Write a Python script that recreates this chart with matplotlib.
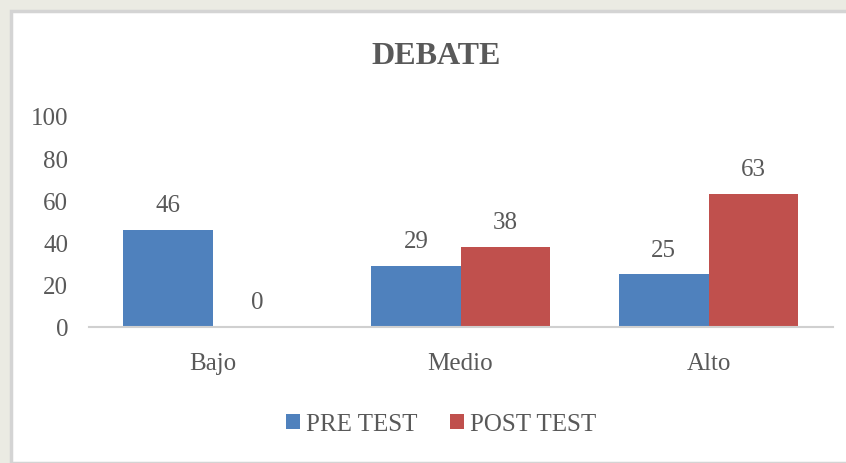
import matplotlib.pyplot as plt
import matplotlib.patches as mpatches
import numpy as np

categories = ["Bajo", "Medio", "Alto"]
pre_test = [46, 29, 25]
post_test = [0, 38, 63]
series_names = ["PRE TEST", "POST TEST"]
y_ticks = [0, 20, 40, 60, 80, 100]

blue = "#4F81BD"
red = "#C0504D"
txt = "#595959"

plt.rcParams['font.family'] = ['Liberation Serif', 'DejaVu Serif']

fig = plt.figure(figsize=(8.46, 4.64), dpi=100)
fig.patch.set_facecolor("#ebebe3")

# white chart area with light border
box = mpatches.Rectangle((11 / 846, 0), 1.0, 1 - 12 / 464, transform=fig.transFigure,
                         facecolor="white", edgecolor="#d4d4d4", linewidth=2.5, zorder=-5)
fig.patches.append(box)

ax = fig.add_axes([88.5 / 846, 136 / 464, 744 / 846, 211 / 464])
ax.set_facecolor("none")

x = np.arange(len(categories))
w = 0.36
b1 = ax.bar(x - w / 2, pre_test, w, color=blue, label=series_names[0])
b2 = ax.bar(x + w / 2, post_test, w, color=red, label=series_names[1])

for bars, vals in ((b1, pre_test), (b2, post_test)):
    for r, v in zip(bars, vals):
        ax.text(r.get_x() + r.get_width() / 2, v + 6.5, str(v), ha='center', va='bottom',
                fontsize=18, color=txt)

ax.set_xlim(-0.5, 2.5)
ax.set_ylim(0, 100)
ax.set_yticks(y_ticks)
ax.set_xticks(x)
ax.set_xticklabels(categories)
ax.tick_params(axis='both', length=0, labelsize=18, colors=txt)
ax.tick_params(axis='x', pad=18)
ax.tick_params(axis='y', pad=14.5)
for s in ['top', 'right', 'left']:
    ax.spines[s].set_visible(False)
ax.spines['bottom'].set_color("#d0d0d0")
ax.spines['bottom'].set_linewidth(1.5)

fig.text(436 / 846, 1 - 57 / 464, "DEBATE", ha='center', va='center', fontsize=23,
         fontweight='bold', color=txt)

fig.legend(handles=[b1, b2], loc='center', bbox_to_anchor=(441 / 846, 1 - 425 / 464),
           ncol=2, frameon=False, fontsize=18, labelcolor=txt, handlelength=0.55,
           handleheight=0.55, handletextpad=0.25, columnspacing=1.3)

plt.savefig("out.png", dpi=100, facecolor=fig.get_facecolor())
